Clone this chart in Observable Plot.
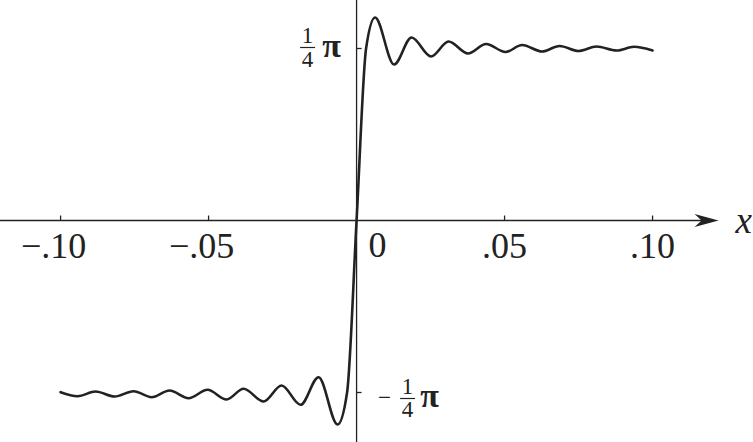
<!DOCTYPE html>
<html>
<head>
<meta charset="utf-8">
<script src="https://cdn.jsdelivr.net/npm/d3@7"></script>
<script src="https://cdn.jsdelivr.net/npm/@observablehq/plot@0.6"></script>
<style>
  html, body { margin: 0; padding: 0; background: #fff; }
  #chart { width: 753px; height: 442px; }
  #chart svg text { font-family: "Liberation Serif", "DejaVu Serif", serif; }
</style>
</head>
<body>
<div id="chart"></div>
<script>
// ---- data ----
const curveX = [
  -0.1, -0.09426, -0.08818, -0.08176, -0.07534, -0.06926, -0.06318, -0.05676,
  -0.05034, -0.04392, -0.03818, -0.03142, -0.02534, -0.01892, -0.01284, -0.00642,
  -0.00321, 0, 0.00321, 0.00625, 0.01267, 0.01858, 0.02517, 0.03108, 0.03767,
  0.04375, 0.05034, 0.05591, 0.06267, 0.06858, 0.075, 0.08108, 0.08784, 0.09375, 0.1
];
const curveY = [
  -0.7840, -0.8023, -0.7808, -0.8037, -0.7795, -0.8069, -0.7763, -0.8114,
  -0.7731, -0.8174, -0.7685, -0.8265, -0.7534, -0.8416, -0.7155, -0.9315,
  -0.7854, 0, 0.7854, 0.9270, 0.7123, 0.8356, 0.7489, 0.8174, 0.7626,
  0.8060, 0.7694, 0.8014, 0.7717, 0.7968, 0.7740, 0.7945, 0.7763, 0.7932, 0.7763
];
const xTickValues = [-0.10, -0.05, 0.05, 0.10];
const xTickLabels = ["\u2212.10", "\u2212.05", ".05", ".10"];
const zeroLabel = "0";
const yTickValues = [Math.PI / 4, -Math.PI / 4];
const axisLabel = "x";

// scale / axis settings
const xDomain = [-0.1203, 0.1341];
const yDomain = [-1.0137, 1.0046];
const xAxisEnd = 0.1223;

const ink = "#222";
const serif = "'Liberation Serif', 'DejaVu Serif', serif";

const points = curveX.map((x, i) => ({x, y: curveY[i]}));
const xTicks = xTickValues.map((v, i) => ({v, label: xTickLabels[i]}));

const arrowHead = {draw(c) { c.moveTo(0, 0); c.lineTo(-24, -6.5); c.lineTo(-17, 0); c.lineTo(-24, 6.5); c.closePath(); }};
const tickUp = {draw(c) { c.moveTo(0, 0); c.lineTo(0, -5); }};
const tickRight = {draw(c) { c.moveTo(0, 0); c.lineTo(5, 0); }};
const fracBar = {draw(c) { c.moveTo(-7.5, 0); c.lineTo(7.5, 0); }};

const topTick = [yTickValues[0]];
const botTick = [yTickValues[1]];

const chart = Plot.plot({
  width: 753,
  height: 442,
  margin: 0,
  style: {background: "#fff", fontFamily: serif, overflow: "visible"},
  x: {domain: xDomain, axis: null},
  y: {domain: yDomain, axis: null},
  marks: [
    // axes
    Plot.ruleY([0], {x1: xDomain[0], x2: xAxisEnd - 0.002, stroke: ink, strokeWidth: 1.3}),
    Plot.ruleX([0], {stroke: ink, strokeWidth: 1.3}),
    Plot.dot([xAxisEnd], {x: d => d, y: d => 0, symbol: arrowHead, fill: ink, stroke: "none"}),
    Plot.dot(xTickValues, {x: d => d, y: d => 0, symbol: tickUp, stroke: ink, strokeWidth: 1.3, fill: "none"}),
    Plot.dot(yTickValues, {x: d => 0, y: d => d, symbol: tickRight, stroke: ink, strokeWidth: 1.3, fill: "none"}),
    // x tick labels
    Plot.text(xTicks.filter(d => d.v < 0), {x: "v", y: d => 0, text: "label", dx: -7, dy: 26, fontSize: 36, fill: ink, fontFamily: serif}),
    Plot.text(xTicks.filter(d => d.v > 0), {x: "v", y: d => 0, text: "label", dx: 0, dy: 26, fontSize: 36, fill: ink, fontFamily: serif}),
    Plot.text([0], {x: d => d, y: d => 0, text: d => zeroLabel, dx: 21, dy: 25, fontSize: 36, fill: ink, fontFamily: serif}),
    Plot.text([xAxisEnd], {x: d => d, y: d => 0, text: d => axisLabel, textAnchor: "start", dx: 17, dy: 1, fontSize: 37, fontStyle: "italic", fill: ink, fontFamily: serif}),
    // y label  1/4 pi
    Plot.text(topTick, {x: d => 0, y: d => d, text: d => "1", dx: -49, dy: -13, fontSize: 23, fill: ink, fontFamily: serif}),
    Plot.dot(topTick, {x: d => 0, y: d => d, symbol: fracBar, dx: -49, dy: -1, stroke: ink, strokeWidth: 1.2, fill: "none"}),
    Plot.text(topTick, {x: d => 0, y: d => d, text: d => "4", dx: -49, dy: 11.5, fontSize: 23, fill: ink, fontFamily: serif}),
    Plot.text(topTick, {x: d => 0, y: d => d, text: d => "\u03C0", dx: -25, dy: -2, fontSize: 34, fontWeight: "bold", fill: ink, fontFamily: serif}),
    // y label  -1/4 pi
    Plot.text(botTick, {x: d => 0, y: d => d, text: d => "\u2212", dx: 28, dy: 5, fontSize: 23, fill: ink, fontFamily: serif}),
    Plot.text(botTick, {x: d => 0, y: d => d, text: d => "1", dx: 51, dy: -6, fontSize: 23, fill: ink, fontFamily: serif}),
    Plot.dot(botTick, {x: d => 0, y: d => d, symbol: fracBar, dx: 51, dy: 6, stroke: ink, strokeWidth: 1.2, fill: "none"}),
    Plot.text(botTick, {x: d => 0, y: d => d, text: d => "4", dx: 51, dy: 17.5, fontSize: 23, fill: ink, fontFamily: serif}),
    Plot.text(botTick, {x: d => 0, y: d => d, text: d => "\u03C0", dx: 73, dy: 4, fontSize: 34, fontWeight: "bold", fill: ink, fontFamily: serif}),
    // curve
    Plot.line(points, {x: "x", y: "y", curve: "monotone-x", stroke: ink, strokeWidth: 2.6})
  ]
});
document.getElementById("chart").appendChild(chart);
</script>
</body>
</html>
